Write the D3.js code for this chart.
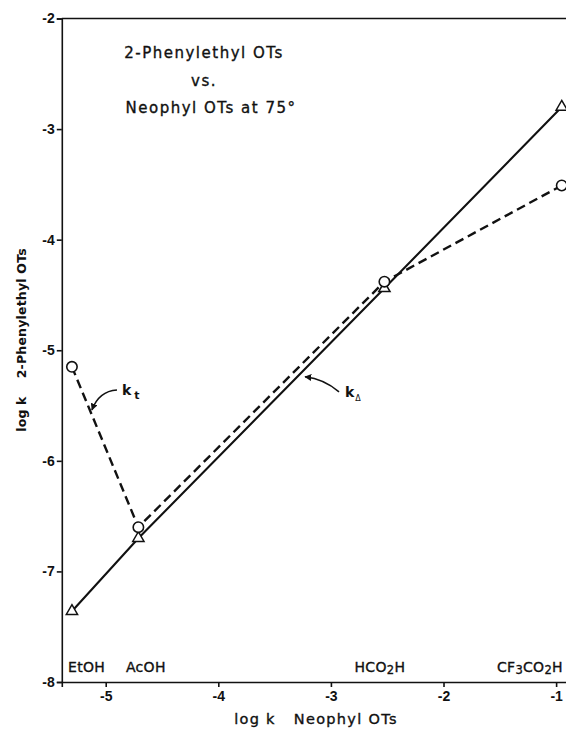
<!DOCTYPE html>
<html>
<head>
<meta charset="utf-8">
<script src="https://cdn.jsdelivr.net/npm/d3@7"></script>
<style>
  body { margin: 0; background: #fff; }
  svg { display: block; font-family: "DejaVu Sans", sans-serif; }
  .tick text { font-size: 14px; font-weight: bold; fill: #111; }
  .tick line, .domain { stroke: #111; stroke-width: 1.6; }
  .txt { fill: #111; stroke: #111; stroke-width: 0.35; }
</style>
</head>
<body>
<div id="chart"></div>
<script>
// solvents and rate constants (log k at 75 deg)
var solvents = ["EtOH", "AcOH", "HCO2H", "CF3CO2H"];
var logkNeophyl = [-5.30, -4.71, -2.525, -0.95];     // x
var logkDelta = [-7.36, -6.70, -4.44, -2.80];        // k delta, solid
var logkT = [-5.15, -6.60, -4.38, -3.51];            // k t, dashed
var xTicks = [-5, -4, -3, -2, -1];
var yTicks = [-2, -3, -4, -5, -6, -7, -8];

// solvent names, [text, subscript?] pieces, and where they start on the x axis
var solventLabels = [[["EtOH", 0]], [["AcOH", 0]],
  [["HCO", 0], ["2", 1], ["H", 0]],
  [["CF", 0], ["3", 1], ["CO", 0], ["2", 1], ["H", 0]]];
var solventLabelX = [-5.335, -4.82, -2.79, -1.525];
var solventLabelY = -7.91;

// arrows to the lines: [start, control, tip] in data units
var arrowT = [[-4.90, -5.36], [-5.06, -5.37], [-5.122, -5.54]];
var arrowDelta = [[-2.928, -5.377], [-3.06, -5.26], [-3.23, -5.24]];
var labelT = [-4.855, -5.405];
var labelDelta = [-2.875, -5.42];

var W = 566, H = 729;
var x = d3.scaleLinear().domain([-5.39, -0.85]).range([61.8, 573]);
var y = d3.scaleLinear().domain([-8, -2]).range([682, 18.5]);

var svg = d3.select("#chart").append("svg")
    .attr("width", W)
    .attr("height", H);

svg.append("defs").append("marker")
    .attr("id", "head")
    .attr("viewBox", "0 0 10 10")
    .attr("refX", 9).attr("refY", 5)
    .attr("markerWidth", 7).attr("markerHeight", 7)
    .attr("markerUnits", "userSpaceOnUse")
    .attr("orient", "auto")
    .append("path")
    .attr("d", "M0,0L10,5L0,10z")
    .attr("fill", "#111");

// axes
svg.append("g")
    .attr("transform", "translate(0," + y(-8) + ")")
    .call(d3.axisBottom(x).tickValues(xTicks).tickSize(5).tickPadding(4).tickFormat(d3.format("d")));

svg.append("g")
    .attr("transform", "translate(" + x.range()[0] + ",0)")
    .call(d3.axisLeft(y).tickValues(yTicks).tickSize(5).tickPadding(2).tickFormat(d3.format("d")));

// top frame line
svg.append("line")
    .attr("x1", x.range()[0]).attr("x2", W)
    .attr("y1", y(-2)).attr("y2", y(-2))
    .attr("stroke", "#111").attr("stroke-width", 1.6);

svg.selectAll(".tick text").text(function (d) { return "-" + Math.abs(d); });

var pts = solvents.map(function (s, i) {
    return { name: s, x: logkNeophyl[i], d: logkDelta[i], t: logkT[i] };
});

var lineD = d3.line().x(function (p) { return x(p.x); }).y(function (p) { return y(p.d); });
var lineT = d3.line().x(function (p) { return x(p.x); }).y(function (p) { return y(p.t); });

svg.append("path")
    .attr("d", lineD(pts))
    .attr("fill", "none").attr("stroke", "#111").attr("stroke-width", 2.1);

svg.append("path")
    .attr("d", lineT(pts))
    .attr("fill", "none").attr("stroke", "#111").attr("stroke-width", 2.4)
    .attr("stroke-dasharray", "9,5");

svg.selectAll(".tri").data(pts).enter().append("path")
    .attr("class", "tri")
    .attr("transform", function (p) { return "translate(" + x(p.x) + "," + y(p.d) + ")"; })
    .attr("d", d3.symbol().type(d3.symbolTriangle).size(55))
    .attr("fill", "#fff").attr("stroke", "#111").attr("stroke-width", 1.5);

svg.selectAll(".circ").data(pts).enter().append("circle")
    .attr("class", "circ")
    .attr("cx", function (p) { return x(p.x); })
    .attr("cy", function (p) { return y(p.t); })
    .attr("r", 5.2)
    .attr("fill", "#fff").attr("stroke", "#111").attr("stroke-width", 1.6);

// arrows and k labels
function arrow(a) {
    var p = d3.path();
    p.moveTo(x(a[0][0]), y(a[0][1]));
    p.quadraticCurveTo(x(a[1][0]), y(a[1][1]), x(a[2][0]), y(a[2][1]));
    svg.append("path").attr("d", p.toString())
        .attr("fill", "none").attr("stroke", "#111").attr("stroke-width", 1.6)
        .attr("marker-end", "url(#head)");
}
arrow(arrowT);
arrow(arrowDelta);

var kt = svg.append("text")
    .attr("x", x(labelT[0])).attr("y", y(labelT[1]))
    .attr("font-size", 14).attr("font-weight", "bold").attr("fill", "#111");
kt.append("tspan").text("k");
kt.append("tspan").attr("dx", 3).attr("dy", 4).attr("font-size", 11).text("t");

var kd = svg.append("text")
    .attr("x", x(labelDelta[0])).attr("y", y(labelDelta[1]))
    .attr("font-size", 14).attr("font-weight", "bold").attr("fill", "#111");
kd.append("tspan").text("k");
kd.append("tspan").attr("dx", 1).attr("dy", 4).attr("font-size", 8).attr("font-weight", "normal").text("\u0394");

// solvent names along the bottom
solventLabels.forEach(function (parts, i) {
    var t = svg.append("text")
        .attr("class", "txt")
        .attr("x", x(solventLabelX[i])).attr("y", y(solventLabelY))
        .attr("font-size", 14).attr("letter-spacing", 0.3);
    var low = 0;
    parts.forEach(function (p) {
        var dy = (p[1] ? 2 : 0) - low;
        low = p[1] ? 2 : 0;
        t.append("tspan").attr("dy", dy).attr("font-size", p[1] ? 11.5 : 14).text(p[0]);
    });
});

// title block
var title = ["2-Phenylethyl OTs", "vs.", "Neophyl OTs at 75\u00b0"];
svg.selectAll(".title").data(title).enter().append("text")
    .attr("class", "title txt")
    .attr("x", function (d, i) { return i == 2 ? 211 : 204; })
    .attr("y", function (d, i) { return 58 + i * 27.5; })
    .attr("text-anchor", "middle")
    .attr("font-size", 15).attr("letter-spacing", 1.5)
    .text(function (d) { return d; });

// axis titles
var xl = svg.append("text")
    .attr("class", "txt")
    .attr("x", 316).attr("y", 724)
    .attr("text-anchor", "middle")
    .attr("font-size", 14.5).attr("letter-spacing", 1.3);
xl.append("tspan").text("log k");
xl.append("tspan").attr("dx", 18).text("Neophyl OTs");

var yl = svg.append("text")
    .attr("transform", "translate(26,340) rotate(-90)")
    .attr("text-anchor", "middle")
    .attr("font-size", 12.5).attr("font-weight", "bold").attr("letter-spacing", 0.2).attr("fill", "#111");
yl.append("tspan").text("log k");
yl.append("tspan").attr("dx", 18).text("2-Phenylethyl OTs");
</script>
</body>
</html>
